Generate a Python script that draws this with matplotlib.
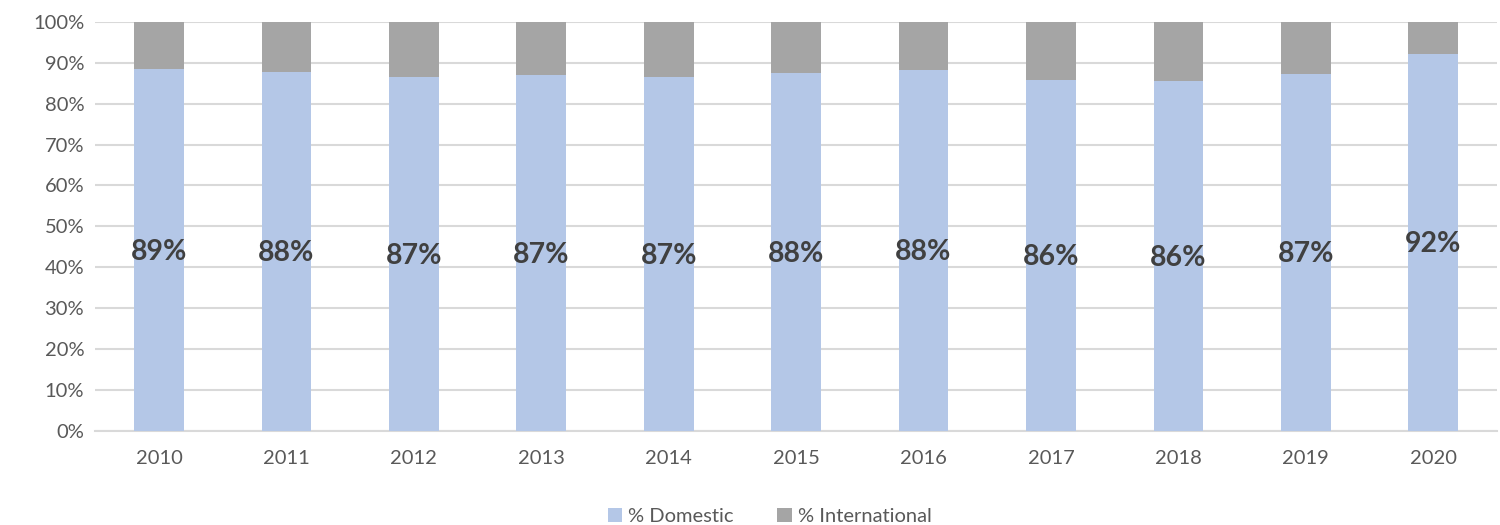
import matplotlib.pyplot as plt
from matplotlib.ticker import PercentFormatter

plt.rcParams['font.family'] = ['Lato', 'DejaVu Sans']

years = ['2010', '2011', '2012', '2013', '2014', '2015',
         '2016', '2017', '2018', '2019', '2020']
# share of domestic students, percent
domestic = [88.6, 87.7, 86.6, 87.0, 86.6, 87.6, 88.2, 85.8, 85.6, 87.3, 92.1]
international = [100 - d for d in domestic]

blue = '#b4c7e7'
grey = '#a5a5a5'

fig = plt.figure(figsize=(15, 5.25), dpi=100)
ax = fig.add_axes([0.0635, 0.18, 0.9345, 0.778])

x = list(range(len(years)))
ax.bar(x, domestic, width=0.39, color=blue, label='% Domestic', zorder=3)
ax.bar(x, international, width=0.39, bottom=domestic, color=grey,
       label='% International', zorder=3)

for xi, d in zip(x, domestic):
    ax.text(xi, d / 2 - 0.5, '%d%%' % int(d + 0.5), ha='center', va='center',
            fontsize=20.5, fontweight='bold', color='#404040', zorder=4)

ax.set_xlim(-0.5, len(years) - 0.5)
ax.set_ylim(0, 100)
ax.set_yticks(range(0, 101, 10))
ax.yaxis.set_major_formatter(PercentFormatter(decimals=0))
ax.set_xticks(x)
ax.set_xticklabels(years)
ax.tick_params(axis='both', length=0, labelsize=14.5, colors='#595959')
ax.tick_params(axis='x', pad=14)
ax.tick_params(axis='y', pad=8)

ax.grid(axis='y', color='#d9d9d9', linewidth=1.5, zorder=0)
for side in ['top', 'right', 'left']:
    ax.spines[side].set_visible(False)
ax.spines['bottom'].set_color('#d9d9d9')
ax.spines['bottom'].set_linewidth(1.5)

leg = fig.legend(loc='lower center', bbox_to_anchor=(0.513, -0.035), ncol=2,
                 frameon=False, fontsize=14.5, handlelength=0.7,
                 handleheight=0.7, handletextpad=0.3, columnspacing=2.2)
for t in leg.get_texts():
    t.set_color('#595959')

fig.savefig('out.png', dpi=100)
